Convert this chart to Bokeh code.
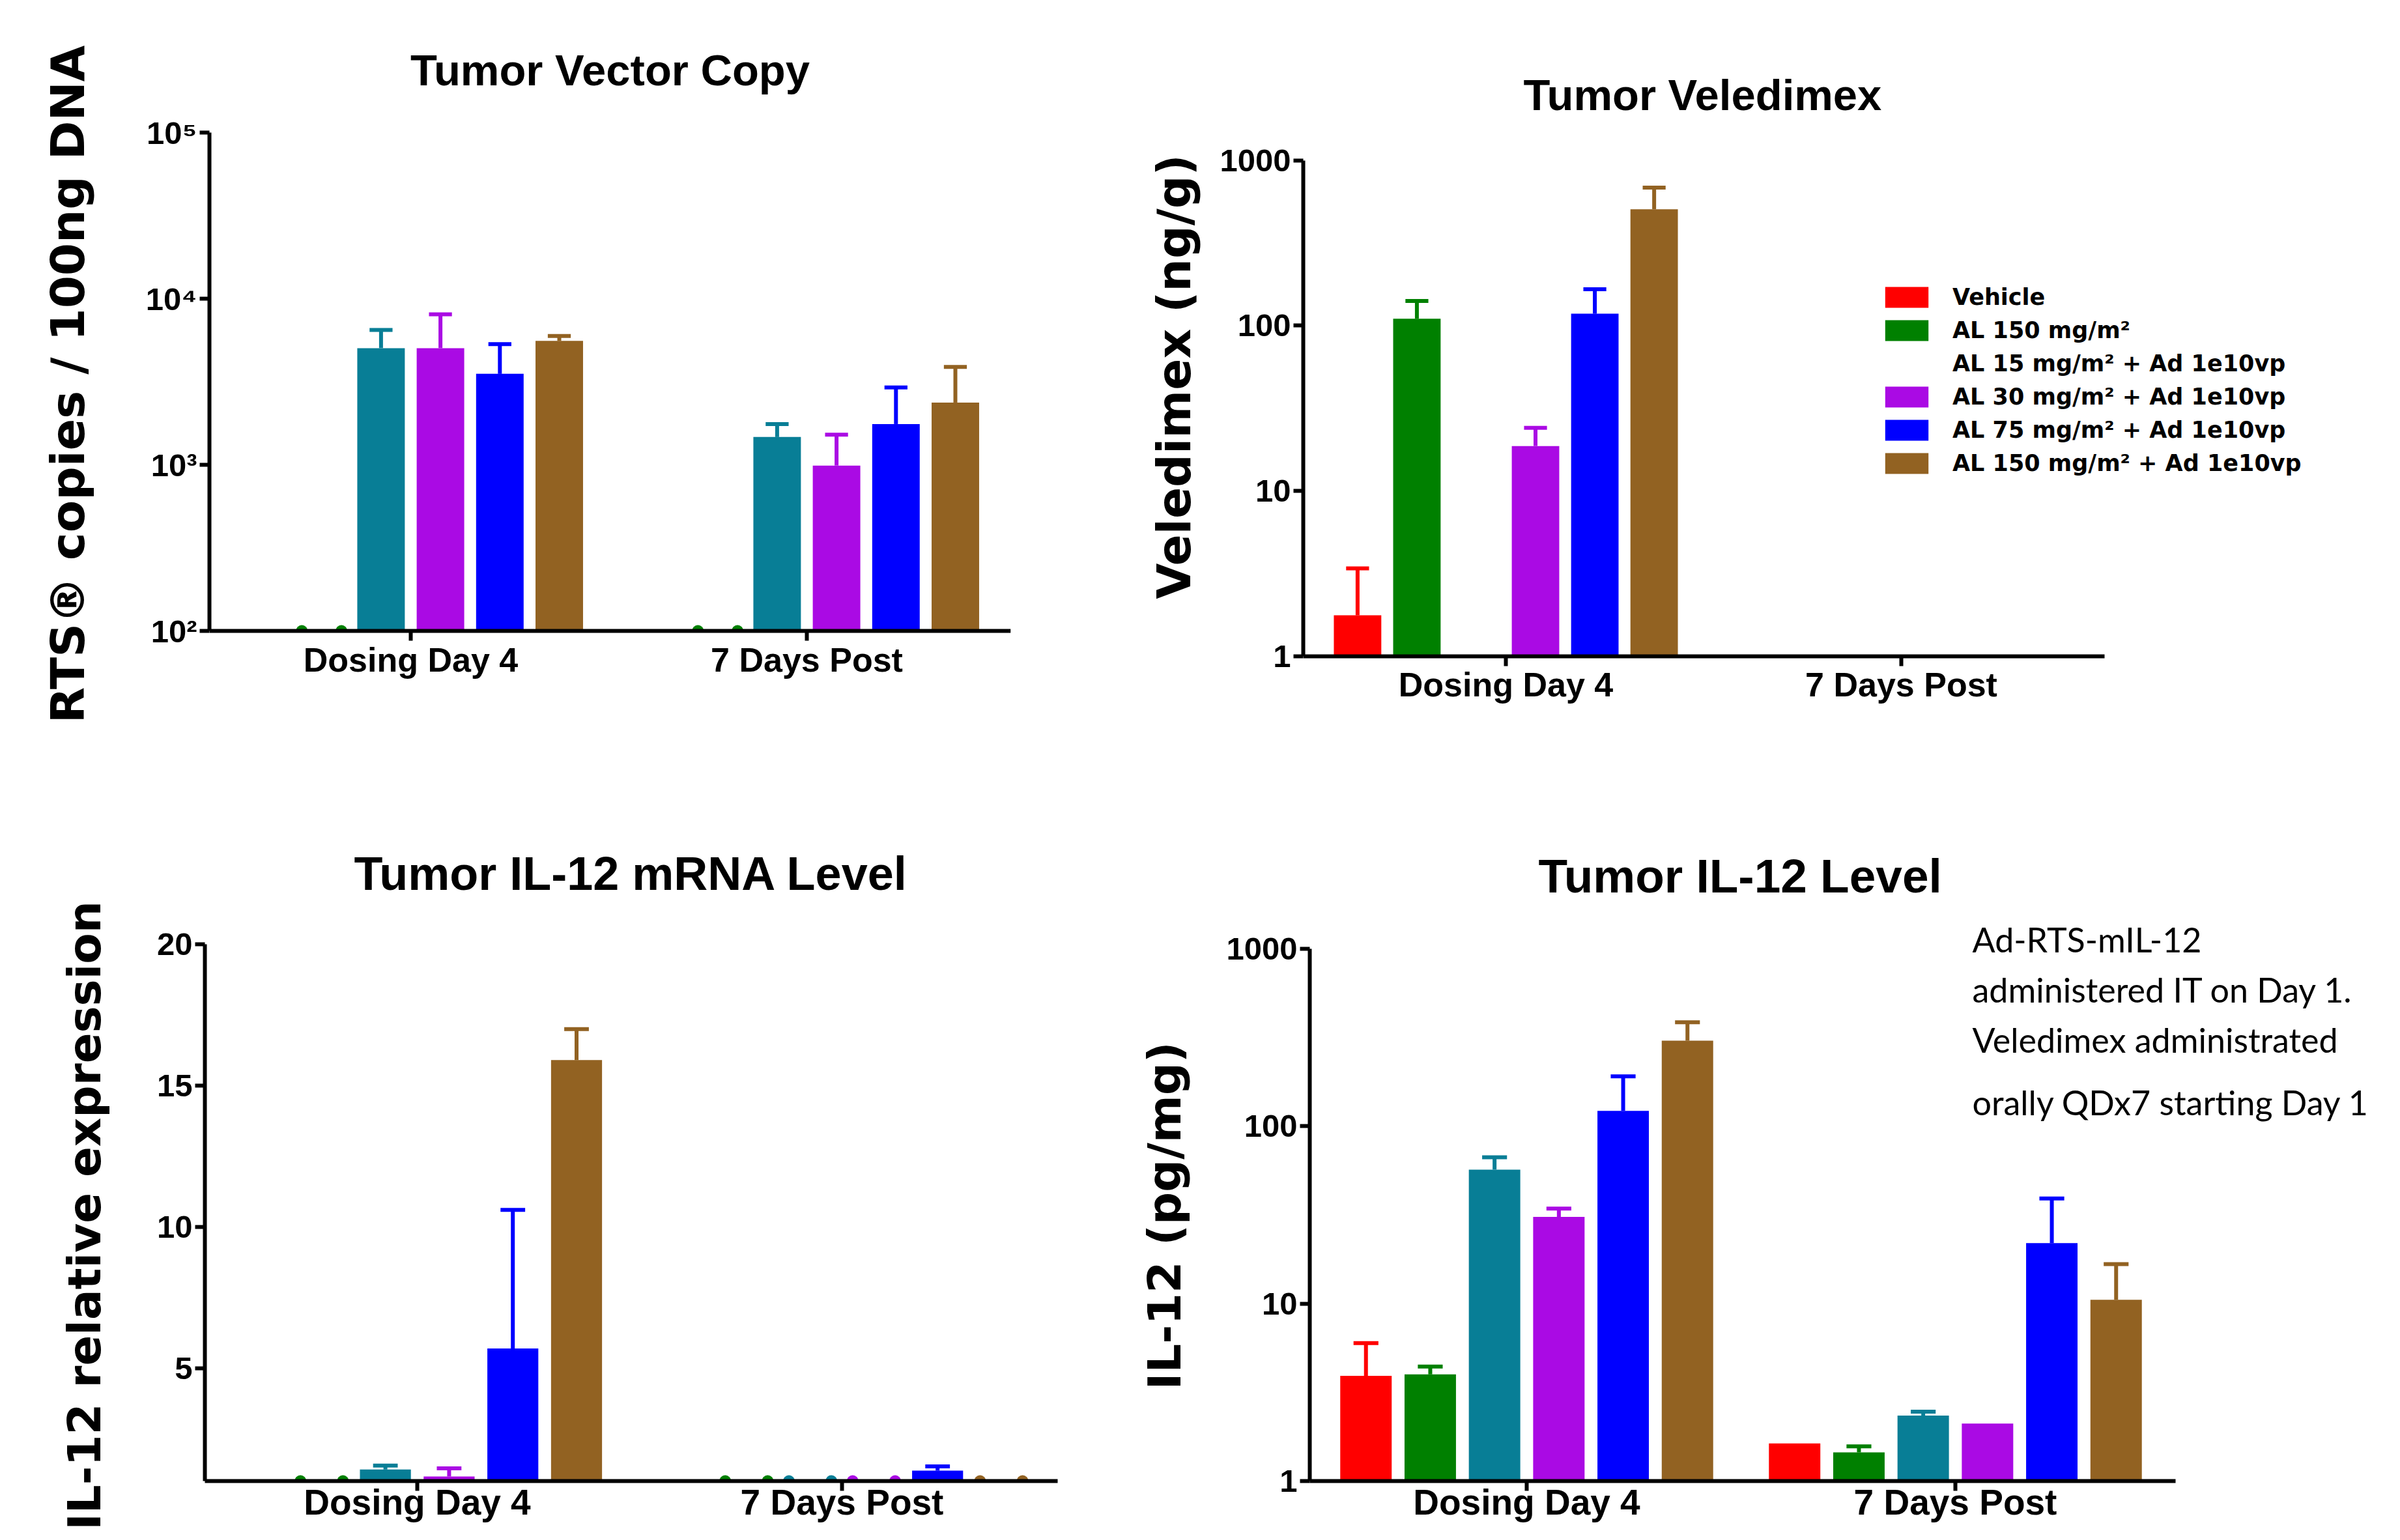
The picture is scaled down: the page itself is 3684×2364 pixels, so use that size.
import math
from bokeh.plotting import figure
from bokeh.models import (ColumnDataSource, Range1d, FixedTicker,
                          Legend, LegendItem, Label)
from bokeh.transform import dodge
from bokeh.layouts import row, column
from bokeh.embed import file_html
from bokeh.resources import INLINE

nan = float("nan")

# ---------------- data ----------------
groups = ["Dosing Day 4", "7 Days Post"]
series = ["Vehicle", "AL 150 mg/m²", "AL 15 mg/m² + Ad 1e10vp",
          "AL 30 mg/m² + Ad 1e10vp", "AL 75 mg/m² + Ad 1e10vp",
          "AL 150 mg/m² + Ad 1e10vp"]
colors = ["#FF0000", "#008000", "#087E96", "#AA0AE4", "#0000FF", "#926222"]

# Tumor Vector Copy (0 = below axis / not detected, nan = no data)
vc_mean = [[nan, nan], [0, 0], [5040, 1470], [5040, 990], [3530, 1760], [5570, 2370]]
vc_sem = [[nan, nan], [nan, nan], [1450, 290], [3010, 530], [1800, 1160], [400, 1510]]
vc_ticks = [100, 1000, 10000, 100000]
vc_tick_labels = ["10²", "10³", "10⁴", "10⁵"]

# Tumor Veledimex (ng/g)
vd_mean = [[1.77, nan], [110, nan], [nan, nan], [18.7, nan], [118, nan], [506, nan]]
vd_sem = [[1.63, nan], [31, nan], [nan, nan], [5.4, nan], [48, nan], [177, nan]]
vd_ticks = [1, 10, 100, 1000]
vd_tick_labels = ["1", "10", "100", "1000"]

# Tumor IL-12 mRNA level (relative expression)
mr_mean = [[nan, nan], [0, 0], [1.41, 0], [1.16, 0], [5.69, 1.37], [15.9, 0]]
mr_sem = [[nan, nan], [nan, nan], [0.14, nan], [0.29, nan], [4.91, 0.15], [1.1, nan]]
mr_ticks = [5, 10, 15, 20]
mr_tick_labels = ["5", "10", "15", "20"]

# Tumor IL-12 level (pg/mg)
il_mean = [[3.92, 1.63], [3.99, 1.45], [56.9, 2.34], [30.8, 2.11], [122, 21.9], [303, 10.5]]
il_sem = [[2.07, nan], [0.43, 0.12], [9.9, 0.12], [3.5, nan], [69, 17.2], [82, 6.2]]
il_ticks = [1, 10, 100, 1000]
il_tick_labels = ["1", "10", "100", "1000"]

notes = ["Ad-RTS-mIL-12", "administered IT on Day 1.",
         "Veledimex administrated", "orally QDx7 starting Day 1"]

# ---------------- styling ----------------
OFFS = [-0.375, -0.225, -0.075, 0.075, 0.225, 0.375]
BAR_W = 0.12
CAP = 0.029
TICK_FONT = "Liberation Sans"
LAB_FONT = "DejaVu Sans"
NB = "\u00a0"
xpos = [i + 0.5 for i in range(len(groups))]   # category centres on the x scale


def finite(v):
    return v == v


def make_panel(title, ylabel, means, sems, ticks, tick_labels, y_log,
               y_range, y_bounds, base, x_unit, x_c0, axis_len,
               W, H, bl, br, bt, bb, title_size, title_standoff, title_offset,
               ylab_size, ylab_standoff, xlab_size, xlab_standoff, fixed_x=None):
    fw = W - bl - br
    x0 = 0.5 - x_c0 / x_unit
    p = figure(width=W, height=H,
               x_range=Range1d(x0, x0 + fw / x_unit),
               y_range=Range1d(*y_range),
               y_axis_type="log" if y_log else "linear",
               output_backend="svg", toolbar_location=None, title=title)
    p.min_border_left = bl
    p.min_border_right = br
    p.min_border_top = bt
    p.min_border_bottom = bb
    p.outline_line_color = None
    p.xgrid.visible = False
    p.ygrid.visible = False
    p.background_fill_color = "white"
    p.border_fill_color = "white"

    rends = []
    for i in range(6):
        vals, errs, c, off = means[i], sems[i], colors[i], OFFS[i]
        bx = [x for x, v in zip(xpos, vals) if finite(v) and v > base]
        bv = [v for v in vals if finite(v) and v > base]
        src = ColumnDataSource(dict(x=bx, top=bv))
        r = p.vbar(x=dodge("x", off), top="top", bottom=base,
                   width=BAR_W, source=src, fill_color=c, line_color=None)
        rends.append(r)

        ex, ev, eh = [], [], []
        for x, v, s in zip(xpos, vals, errs):
            if finite(v) and finite(s) and v > 0:
                ex.append(x); ev.append(v); eh.append(v + s)
        esrc = ColumnDataSource(dict(x=ex, top=ev, hi=eh))
        p.segment(x0=dodge("x", off), y0="top", x1=dodge("x", off), y1="hi",
                  line_color=c, line_width=6, source=esrc)
        p.segment(x0=dodge("x", off - CAP), y0="hi", x1=dodge("x", off + CAP), y1="hi",
                  line_color=c, line_width=6, source=esrc)

        zx = [x for x, v in zip(xpos, vals) if finite(v) and v <= base]
        if zx:
            zsrc = ColumnDataSource(dict(x=zx, base=[base] * len(zx)))
            for d in (-0.05, 0.05):
                p.wedge(x=dodge("x", off + d), y="base", radius=9, radius_units="screen",
                        start_angle=0, end_angle=math.pi, fill_color=c, line_color=None,
                        source=zsrc)

    p.xaxis.ticker = FixedTicker(ticks=xpos)
    p.xaxis.major_label_overrides = {x: g for x, g in zip(xpos, groups)}
    p.xaxis.bounds = (x0, x0 + axis_len / x_unit)
    if fixed_x is not None:
        p.xaxis.fixed_location = fixed_x
    p.yaxis.ticker = FixedTicker(ticks=ticks)
    p.yaxis.major_label_overrides = {t: l for t, l in zip(ticks, tick_labels)}
    p.yaxis.bounds = y_bounds

    for ax in (p.xaxis[0], p.yaxis[0]):
        ax.axis_line_color = "black"
        ax.axis_line_width = 6
        ax.major_tick_line_color = "black"
        ax.major_tick_line_width = 6
        ax.major_tick_out = 15
        ax.major_tick_in = 0
        ax.minor_tick_line_color = None
        ax.major_label_text_font = TICK_FONT
        ax.major_label_text_font_style = "bold"
        ax.major_label_text_color = "black"
    p.xaxis.major_label_text_font_size = f"{xlab_size}px"
    p.xaxis.major_label_standoff = xlab_standoff
    p.yaxis.major_label_text_font_size = "49px"
    p.yaxis.major_label_standoff = 4

    p.yaxis.axis_label = ylabel
    p.yaxis.axis_label_text_font = LAB_FONT
    p.yaxis.axis_label_text_font_style = "bold"
    p.yaxis.axis_label_text_font_size = f"{ylab_size}px"
    p.yaxis.axis_label_text_color = "black"
    p.yaxis.axis_label_standoff = ylab_standoff

    p.title.text_font = TICK_FONT
    p.title.text_font_style = "bold"
    p.title.text_font_size = f"{title_size}px"
    p.title.text_color = "black"
    if title_offset is None:
        p.title.align = "center"
    else:
        p.title.align = "left"
        p.title.offset = title_offset
    p.title.standoff = title_standoff
    return p, rends


# top row: frames y 203..1101 ; bottom row: frames y 1410..~2273
p1, _ = make_panel("Tumor Vector Copy", NB * 5 + "RTS® copies / 100ng DNA", vc_mean, vc_sem,
                   vc_ticks, vc_tick_labels, True, (30.1, 100000), (100, 100000), 100,
                   608, 309, 1230,
                   1692, 1250, 321, 141, 203, 149, 67, 118, None, 72, 75, 52, 0, fixed_x=100)
p2, r2 = make_panel("Tumor Veledimex", NB * 6 + "Veledimex (ng/g)", vd_mean, vd_sem,
                    vd_ticks, vd_tick_labels, True, (0.426, 1471), (1, 1000), 1,
                    607, 311, 1230,
                    1976, 1250, 308, 68, 203, 149, 67, 42, 338, 71, 25, 52, 0, fixed_x=1)
p3, _ = make_panel("Tumor IL-12 mRNA Level", "IL-12 relative expression" + NB * 2,
                   mr_mean, mr_sem,
                   mr_ticks, mr_tick_labels, False, (1, 20.9), (1, 20), 1,
                   652, 326, 1309,
                   1692, 1098, 314, 69, 160, 75, 72, 59, None, 69, 68, 55, -14)
p4, _ = make_panel("Tumor IL-12 Level", "IL-12 (pg/mg)" + NB * 2, il_mean, il_sem,
                   il_ticks, il_tick_labels, True, (1, 1473), (1, 1000), 1,
                   658, 333, 1329,
                   1976, 1098, 318, 0, 160, 75, 73, 52, 351, 70, 50, 55, -14)

legend = Legend(items=[LegendItem(label=s, renderers=[r]) for s, r in zip(series, r2)],
                location=(885, 370), orientation="vertical",
                glyph_width=83, glyph_height=40, label_height=40, spacing=11,
                label_standoff=29, padding=0, margin=0,
                border_line_color=None, background_fill_alpha=0,
                label_text_font=LAB_FONT, label_text_font_style="bold",
                label_text_font_size="35px", label_text_color="black")
p2.add_layout(legend)

note_y = [832, 755, 678, 582]
for txt, yy in zip(notes, note_y):
    p4.add_layout(Label(x=1017, y=yy, x_units="screen", y_units="screen", text=txt,
                        text_font="Lato", text_font_size="52px", text_color="black",
                        text_align="left", text_baseline="alphabetic"))

layout = column(row(p1, p2), row(p3, p4))
open("out.html", "w").write(file_html(layout, INLINE))
